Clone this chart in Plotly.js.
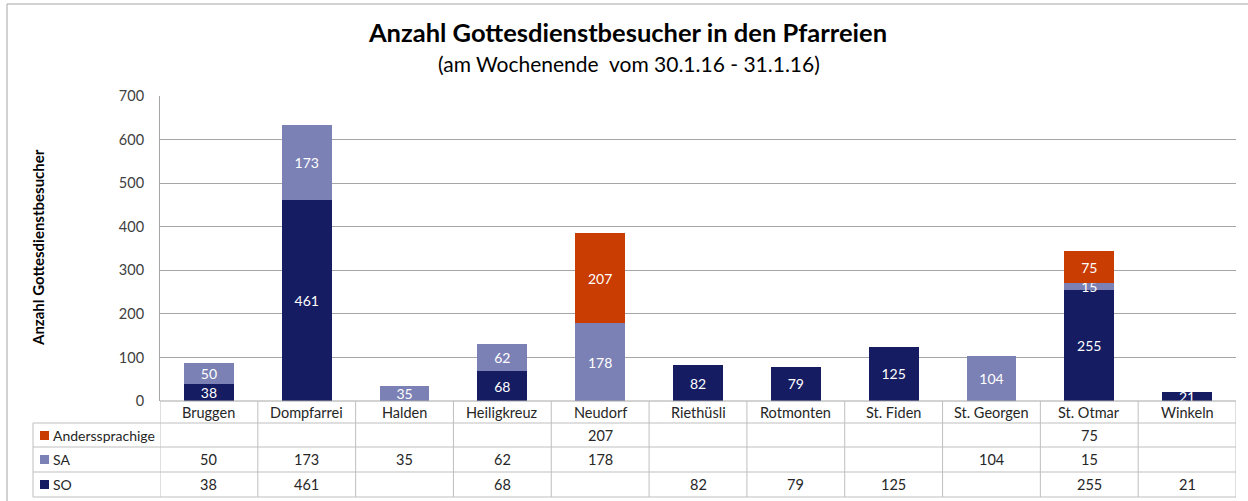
<!DOCTYPE html>
<html>
<head>
<meta charset="utf-8">
<script src="https://cdn.plot.ly/plotly-3.0.1.min.js"></script>
<style>html,body{margin:0;padding:0;background:#fff;}#chart{width:1248px;height:501px;}</style>
</head>
<body>
<div id="chart"></div>
<script>
const categories = ['Bruggen','Dompfarrei','Halden','Heiligkreuz','Neudorf','Riethüsli','Rotmonten','St. Fiden','St. Georgen','St. Otmar','Winkeln'];
const soValues = [38,461,null,68,null,82,79,125,null,255,21];
const saValues = [50,173,35,62,178,null,null,null,104,15,null];
const andersValues = [null,null,null,null,207,null,null,null,null,75,null];
const seriesNames = ['SO','SA','Anderssprachige'];
const yTickValues = [0,100,200,300,400,500,600,700];
const titleText = 'Anzahl Gottesdienstbesucher in den Pfarreien';
const subtitleText = '(am Wochenende&nbsp; vom 30.1.16 - 31.1.16)';
const yTitleText = 'Anzahl Gottesdienstbesucher';

const colors = {SO:'#151C62', SA:'#7C81B5', Anderssprachige:'#C93C02'};
const FONT = 'Lato, "Open Sans", sans-serif';

// layout geometry (pixels)
const L = 160, R = 1236, T = 96, B = 401, W = 1248, H = 501;
const px = p => (p - L) / (R - L);
const py = p => (B - p) / (B - T);

const seriesData = [soValues, saValues, andersValues];
const traces = seriesNames.map((name, k) => ({
  type: 'bar',
  name: name,
  x: categories,
  y: seriesData[k],
  marker: {color: colors[name], line: {width: 0}},
  texttemplate: '%{y}',
  textposition: 'inside',
  insidetextanchor: 'middle',
  textangle: 0,
  constraintext: 'none',
  textfont: {color: '#FFFFFF', size: 14, family: FONT},
  showlegend: false,
  hoverinfo: 'x+y+name'
}));

const shapes = [];
const annotations = [];
const lineColor = '#BFBFBF';
// table horizontal lines
[423, 447, 472, 497].forEach(yy => shapes.push({type:'line', xref:'paper', yref:'paper', x0:px(33), x1:1, y0:py(yy), y1:py(yy), line:{color:lineColor, width:1}}));
// x axis / header top line
shapes.push({type:'line', xref:'paper', yref:'paper', x0:0, x1:1, y0:0, y1:0, line:{color:'#A6A6A6', width:1}});
// left edge of legend column
shapes.push({type:'line', xref:'paper', yref:'paper', x0:px(33), x1:px(33), y0:py(423), y1:py(497), line:{color:lineColor, width:1}});
// category separators
for (let i = 0; i <= categories.length; i++) {
  shapes.push({type:'line', xref:'x', yref:'paper', x0:i-0.5, x1:i-0.5, y0:0, y1:py(497), line:{color:lineColor, width:1}});
}
// outer chart frame
shapes.push({type:'rect', xref:'paper', yref:'paper', x0:px(7), x1:px(1262), y0:py(4), y1:py(520), line:{color:'#A6A6A6', width:1}, fillcolor:'rgba(0,0,0,0)'});

// header labels
categories.forEach(c => annotations.push({xref:'x', yref:'paper', x:c, y:py(412), text:c, showarrow:false, xanchor:'center', yanchor:'middle', font:{family:FONT, size:14.5, color:'#262626'}}));

// table rows
const rows = [
  {name:'Anderssprachige', vals:andersValues, y:435},
  {name:'SA', vals:saValues, y:459},
  {name:'SO', vals:soValues, y:484}
];
rows.forEach(r => {
  shapes.push({type:'rect', xref:'paper', yref:'paper', x0:px(40), x1:px(49), y0:py(r.y-4), y1:py(r.y+5), fillcolor:colors[r.name], line:{width:0}});
  annotations.push({xref:'paper', yref:'paper', x:px(51), y:py(r.y), text:r.name, showarrow:false, xanchor:'left', yanchor:'middle', font:{family:FONT, size:14, color:'#262626'}});
  r.vals.forEach((v, i) => {
    if (v !== null) annotations.push({xref:'x', yref:'paper', x:categories[i], y:py(r.y), text:String(v), showarrow:false, xanchor:'center', yanchor:'middle', font:{family:FONT, size:14.5, color:'#262626'}});
  });
});

// subtitle
annotations.push({xref:'paper', yref:'paper', x:px(629), y:py(64), text:subtitleText, showarrow:false, xanchor:'center', yanchor:'middle', font:{family:FONT, size:21, color:'#000'}});
// y title
annotations.push({xref:'paper', yref:'paper', x:px(38), y:py(248), text:'<b>'+yTitleText+'</b>', textangle:-90, showarrow:false, xanchor:'center', yanchor:'middle', font:{family:FONT, size:15, color:'#000'}});

const layout = {
  width: W, height: H,
  margin: {l: L, r: W - R, t: T, b: H - B},
  paper_bgcolor: '#fff', plot_bgcolor: '#fff',
  barmode: 'stack',
  bargap: 0.49,
  font: {family: FONT, size: 14, color: '#404040'},
  title: {text: '<b>' + titleText + '</b>', x: 628 / W, xref: 'container', xanchor: 'center', y: 1 - 33 / H, yref: 'container', yanchor: 'middle', font: {family: FONT, size: 25.5, color: '#000'}},
  xaxis: {type: 'category', showticklabels: false, showgrid: false, zeroline: false, showline: false, ticks: '', range: [-0.5, categories.length - 0.5], fixedrange: true},
  yaxis: {range: [0, 700], tickvals: yTickValues, ticktext: yTickValues.map(String), showgrid: true, gridcolor: '#A6A6A6', gridwidth: 1, zeroline: false, showline: true, linecolor: '#A6A6A6', ticks: '', ticklabelstandoff: 12, tickfont: {family: FONT, size: 14.5, color: '#404040'}, fixedrange: true},
  uniformtext: {minsize: 14, mode: 'show'},
  shapes: shapes,
  annotations: annotations
};

Plotly.newPlot('chart', traces, layout, {displayModeBar: false, staticPlot: true});
</script>
</body>
</html>
